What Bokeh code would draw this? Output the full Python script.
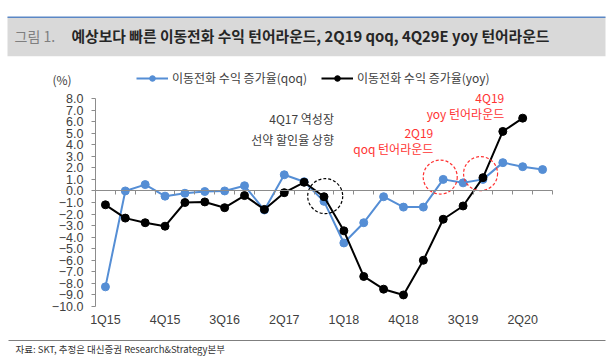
from bokeh.plotting import figure
from bokeh.models import (Range1d, FixedTicker, Legend, LegendItem, LinearAxis,
                          CustomJSTickFormatter)
from bokeh.core.properties import value
from bokeh.embed import file_html
from bokeh.resources import INLINE

# ---------------- data ----------------
quarters = ["1Q15", "2Q15", "3Q15", "4Q15", "1Q16", "2Q16", "3Q16", "4Q16",
            "1Q17", "2Q17", "3Q17", "4Q17", "1Q18", "2Q18", "3Q18", "4Q18",
            "1Q19", "2Q19", "3Q19", "4Q19", "1Q20", "2Q20", "3Q20"]
qoq = [-8.3, 0.0, 0.55, -0.45, -0.2, -0.05, 0.0, 0.45, -1.65, 1.4, 0.8, -0.9,
       -4.5, -2.75, -0.5, -1.4, -1.4, 1.0, 0.7, 1.0, 2.45, 2.1, 1.85]
yoy = [-1.2, -2.35, -2.75, -3.05, -1.0, -0.95, -1.45, -0.4, -1.6, -0.15, 0.75,
       -0.5, -3.45, -7.4, -8.5, -9.0, -6.0, -2.45, -1.3, 1.15, 5.15, 6.3]
x_tick_labels = ["1Q15", "4Q15", "3Q16", "2Q17", "1Q18", "4Q18", "3Q19", "2Q20"]
y_min, y_max = -10, 8
y_ticks = list(range(y_min, y_max + 1))
y_tick_labels = [f"{t:.1f}".replace("-", "\u2212") for t in y_ticks]

title_gray = "그림 1."
title_main = "예상보다 빠른 이동전화 수익 턴어라운드, 2Q19 qoq, 4Q29E yoy 턴어라운드"
legend_qoq = "이동전화 수익 증가율(qoq)"
legend_yoy = "이동전화 수익 증가율(yoy)"
unit_text = "(%)"
note_black = ["4Q17 역성장", "선약 할인율 상향"]
note_red1 = ["2Q19", "qoq 턴어라운드"]
note_red2 = ["4Q19", "yoy 턴어라운드"]
source_text = "자료: SKT, 추정은 대신증권 Research&Strategy본부"

# ---------------- styling / layout constants ----------------
KR = "Noto Sans CJK KR"
LAT = "Liberation Sans"
BLUE = "#558ED5"
RED = "#FF3333"
TXT = "#404040"
AX = "#8C8C8C"
W, H = 612, 362
PLOT_L, PLOT_R, PLOT_T, PLOT_B = 95, 552, 98, 306   # pixel box of the value area
n = len(quarters)
x_lo, x_hi = -0.5, n - 0.5
ppx = (PLOT_R - PLOT_L) / (x_hi - x_lo)
ppy = (PLOT_B - PLOT_T) / (y_max - y_min)


def X(px):
    return x_lo + (px - PLOT_L) / ppx


def Y(py):
    return y_max - (py - PLOT_T) / ppy


p = figure(width=W, height=H, x_range=Range1d(X(0), X(W)), y_range=Range1d(Y(H), Y(0)),
           output_backend="svg", toolbar_location=None)
p.min_border = 0
p.min_border_left = p.min_border_right = p.min_border_top = p.min_border_bottom = 0
p.grid.visible = False
p.outline_line_color = None

# ---- y axis (fixed at left edge of the category range) ----
yax = p.yaxis[0]
yax.fixed_location = x_lo
yax.bounds = (y_min, y_max)
yax.ticker = FixedTicker(ticks=y_ticks)
yax.major_label_overrides = {t: l for t, l in zip(y_ticks, y_tick_labels)}
yax.minor_tick_line_color = None
yax.major_tick_in = 0
yax.major_tick_out = 4
yax.axis_line_color = AX
yax.major_tick_line_color = AX
yax.major_label_text_font = LAT
yax.major_label_text_font_size = "12.5px"
yax.major_label_text_color = TXT
yax.major_label_standoff = 8

# ---- category labels along the bottom ----
xax = p.xaxis[0]
xax.fixed_location = y_min
xax.ticker = FixedTicker(ticks=[quarters.index(q) for q in x_tick_labels])
xax.major_label_overrides = {quarters.index(q): q for q in x_tick_labels}
xax.axis_line_color = None
xax.major_tick_line_color = None
xax.minor_tick_line_color = None
xax.major_tick_out = 0
xax.major_tick_in = 0
xax.major_label_standoff = 6
xax.major_label_text_font = LAT
xax.major_label_text_font_size = "12.5px"
xax.major_label_text_color = TXT

# ---- zero line with category-boundary ticks ----
zax = LinearAxis(fixed_location=0, bounds=(x_lo, x_hi),
                 ticker=FixedTicker(ticks=[i - 0.5 for i in range(n + 1)]),
                 formatter=CustomJSTickFormatter(code="return ''"))
zax.axis_line_color = AX
zax.major_tick_line_color = AX
zax.minor_tick_line_color = None
zax.major_tick_in = 0
zax.major_tick_out = 4
p.add_layout(zax, "below")

# ---------------- title band ----------------
p.quad(left=[X(7)], right=[X(605)], top=[Y(16.7)], bottom=[Y(55.7)],
       fill_color="#D9D9D9", line_color=None)
p.segment(x0=[X(7)], y0=[Y(16.7)], x1=[X(605)], y1=[Y(16.7)], line_color="#5B87C5", line_width=1.5)
p.text(x=[X(14)], y=[Y(35)], text=[title_gray], text_font=value(KR), text_font_size="14px",
       text_color="#7F7F7F", text_baseline="middle", text_align="left")
p.text(x=[X(71)], y=[Y(35)], text=[title_main], text_font=value(KR), text_font_size="14.8px",
       text_font_style="bold", text_color="#262626", text_baseline="middle", text_align="left")

# ---------------- series ----------------
xs = list(range(n))
l1 = p.line(xs, qoq, line_color=BLUE, line_width=2)
s1 = p.scatter(xs, qoq, size=8, fill_color=BLUE, line_color=BLUE)
xs2 = xs[:len(yoy)]
l2 = p.line(xs2, yoy, line_color="black", line_width=2)
s2 = p.scatter(xs2, yoy, size=8, fill_color="black", line_color="black")

# dashed highlight circles
p.scatter([quarters.index("4Q17") + 0.06], [-0.45], size=35, marker="circle",
          fill_alpha=0, line_color="black", line_dash="3 2", line_width=1.2)
p.scatter([quarters.index("2Q19") - 0.15, quarters.index("4Q19") - 0.12], [1.2, 1.5], size=34,
          marker="circle", fill_alpha=0, line_color=RED, line_dash="3 2", line_width=1.2)

# annotation texts
p.text(x=[11.5, 11.5], y=[6.25, 4.45], text=note_black, text_font=value(KR),
       text_font_size="12px", text_color=TXT, text_align="right", text_baseline="middle")
p.text(x=[16.5, 16.5], y=[5.05, 3.66], text=note_red1, text_font=value(KR),
       text_font_size="12px", text_color=RED, text_align="right", text_baseline="middle")
p.text(x=[20.07, 20.07], y=[8.1, 6.72], text=note_red2, text_font=value(KR),
       text_font_size="12px", text_color=RED, text_align="right", text_baseline="middle")

p.text(x=[X(52)], y=[Y(79)], text=[unit_text], text_font=value(KR), text_font_size="12px",
       text_color=TXT, text_align="left", text_baseline="middle")

# ---------------- legend ----------------
legend = Legend(items=[LegendItem(label=legend_qoq, renderers=[l1, s1]),
                       LegendItem(label=legend_yoy, renderers=[l2, s2])],
                orientation="horizontal", location=(136, H - 86))
legend.padding = 0
legend.margin = 0
legend.spacing = 14
legend.glyph_width = 32
legend.glyph_height = 14
legend.label_height = 14
legend.label_standoff = 4
legend.label_text_font = KR
legend.label_text_font_size = "12px"
legend.label_text_color = TXT
legend.border_line_color = None
legend.background_fill_alpha = 0
p.add_layout(legend)

# ---------------- footer ----------------
p.segment(x0=[X(8)], y0=[Y(340)], x1=[X(605)], y1=[Y(340)], line_color="#7F7F7F", line_width=1)
p.text(x=[X(15)], y=[Y(348.5)], text=[source_text], text_font=value(KR), text_font_size="9.5px",
       text_color="#333333", text_baseline="middle", text_align="left")

open("out.html", "w").write(file_html(p, INLINE))
